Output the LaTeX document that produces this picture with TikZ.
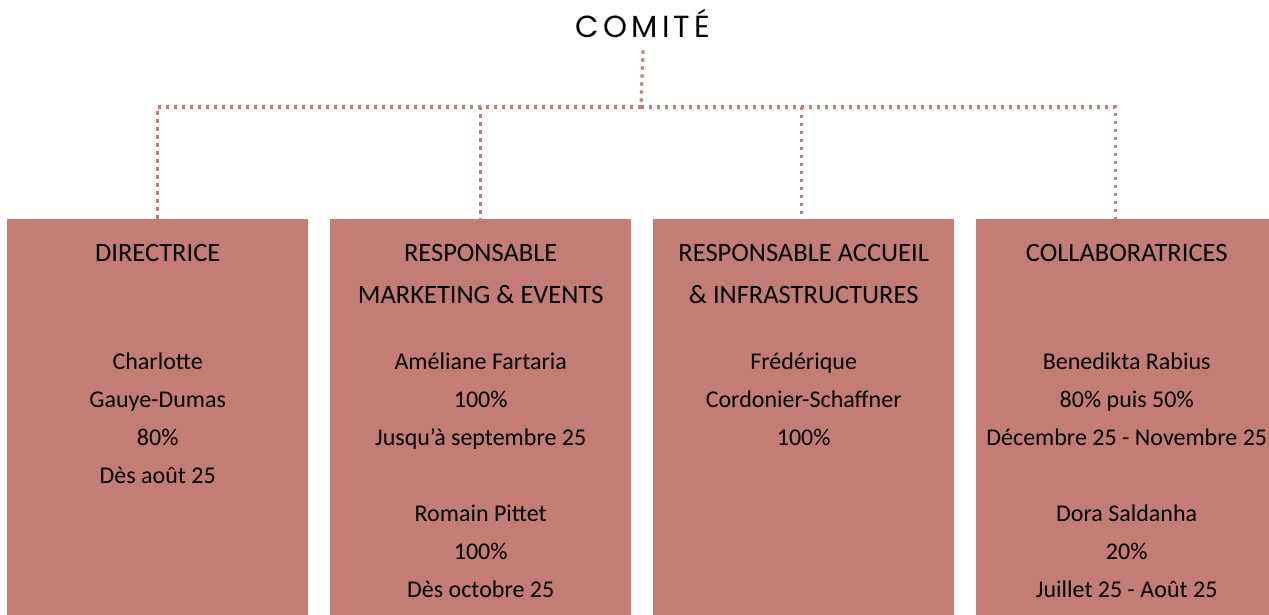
\documentclass[tikz,border=0pt]{standalone}
\usepackage{fontspec}
\setmainfont{Carlito}
\newfontfamily\titlefont[LetterSpace=14]{Poppins}
\usetikzlibrary{positioning}
\usepackage{color}
\definecolor{rose_box}{RGB}{195,125,117}

\tikzset{
	postbox/.style={rectangle, fill=rose_box, minimum width=301pt, minimum height=400pt, inner sep=0pt, anchor=north west},
	heading/.style={align=center, inner sep=0pt, font=\fontsize{26.5}{42}\selectfont, execute at begin node=\rule{0pt}{24pt}},
	people/.style={align=center, inner sep=0pt, font=\fontsize{24}{38}\selectfont, execute at begin node=\rule{0pt}{24pt}},
	dotline/.style={draw=rose_box, line width=3.3pt, dash pattern=on 3.3pt off 4.7pt}
}

\begin{document}
\begin{tikzpicture}[x=1pt, y=-1pt]
			\useasboundingbox (0,0) rectangle (1269,614);
			% --- Begin Comite Node ---
			\node [anchor=base, inner xsep=0pt, inner ysep=13pt, font=\titlefont\fontsize{30.5}{30}\selectfont] (Comite) at (643,37) {COMITÉ};
			\coordinate (junction) at (641,107);
			% --- End Comite Node ---

			% --- Begin Directrice Node ---
			\node [postbox] (Directrice) at (7,219) {};
			\node [heading, below=18pt of Directrice.north] (directrice_title) {DIRECTRICE};
			\node [people, below=134pt of Directrice.north] (directrice_people) {
				Charlotte \\
				Gauye-Dumas \\
				80\% \\
				Dès août 25
			};
			% --- End Directrice Node ---

			% --- Begin Marketing Node ---
			\node [postbox] (Marketing) at (330,219) {};
			\node [heading, below=25pt of Marketing.north] (marketing_title) {
				RESPONSABLE \\
				MARKETING \& EVENTS
			};
			\node [people, below=134pt of Marketing.north] (marketing_people) {
				Améliane Fartaria \\
				100\% \\
				Jusqu’à septembre 25 \\[38pt]
				Romain Pittet \\
				100\% \\
				Dès octobre 25
			};
			% --- End Marketing Node ---

			% --- Begin Accueil Node ---
			\node [postbox] (Accueil) at (653,219) {};
			\node [heading, below=25pt of Accueil.north] (accueil_title) {
				RESPONSABLE ACCUEIL \\
				\& INFRASTRUCTURES
			};
			\node [people, below=134pt of Accueil.north] (accueil_people) {
				Frédérique \\
				Cordonier-Schaffner \\
				100\%
			};
			% --- End Accueil Node ---

			% --- Begin Collaboratrices Node ---
			\node [postbox] (Collaboratrices) at (976,219) {};
			\node [heading, below=18pt of Collaboratrices.north] (collaboratrices_title) {COLLABORATRICES};
			\node [people, below=134pt of Collaboratrices.north] (collaboratrices_people) {
				Benedikta Rabius \\
				80\% puis 50\% \\
				Décembre 25 - Novembre 25 \\[38pt]
				Dora Saldanha \\
				20\% \\
				Juillet 25 - Août 25
			};
			% --- End Collaboratrices Node ---

			% Dotted links from the committee down to each box.
			\draw [dotline] (Comite.south) -- (junction);
			\draw [dotline] (junction) -| ([xshift=-0.5pt]Directrice.north);
			\draw [dotline] (junction) -| ([xshift=-0.5pt]Marketing.north);
			\draw [dotline] (junction) -| ([xshift=-2.5pt]Accueil.north);
			\draw [dotline] (junction) -| ([xshift=-11.5pt]Collaboratrices.north);
		\end{tikzpicture}
\end{document}
